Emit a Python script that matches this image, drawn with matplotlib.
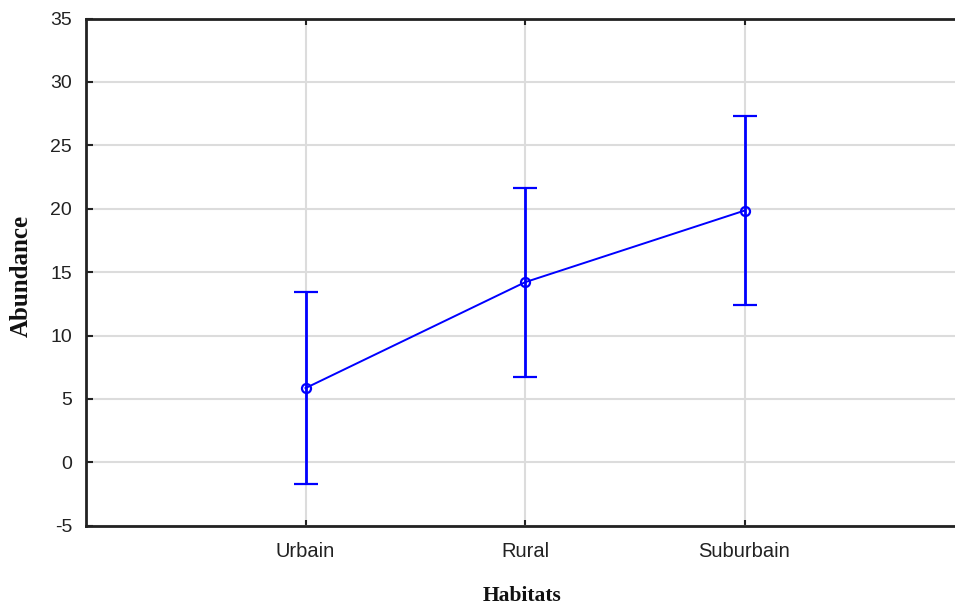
import matplotlib
matplotlib.use("Agg")
import matplotlib.pyplot as plt
import numpy as np

plt.rcParams["axes.unicode_minus"] = False

categories = ["Urbain", "Rural", "Suburbain"]
means = [5.85, 14.2, 19.85]
errors = [7.55, 7.45, 7.45]
yticks = [-5, 0, 5, 10, 15, 20, 25, 30, 35]

W, H = 955, 609
fig = plt.figure(figsize=(W / 100, H / 100), dpi=100)
ax = fig.add_axes([86 / W, (H - 525.7) / H, (964 - 86) / W, (525.7 - 18.5) / H])

x = np.arange(len(categories))
ax.errorbar(x, means, yerr=errors, color="#0000ff", linewidth=1.4,
            elinewidth=2.0, capsize=8.5, capthick=2.0,
            marker="o", markersize=6.5, markerfacecolor="none",
            markeredgewidth=1.6, zorder=3)

ax.set_xlim(-1, 3)
ax.set_ylim(-5, 35)
ax.set_xticks(x)
ax.set_xticklabels(categories)
ax.set_yticks(yticks)

ax.grid(True, color="#dcdcdc", linewidth=1.5, zorder=0)
ax.set_axisbelow(True)

for s in ["left", "top", "bottom"]:
    ax.spines[s].set_linewidth(2.0)
    ax.spines[s].set_color("#222222")
ax.spines["right"].set_visible(False)

ax.tick_params(axis="y", direction="in", length=5, width=1.5, color="#222222",
               labelsize=14, labelcolor="#222222", pad=10, right=False)
ax.tick_params(axis="x", direction="in", length=4, width=1.5, color="#222222",
               labelsize=14.5, labelcolor="#222222", pad=12, top=True)
for lab in ax.get_xticklabels() + ax.get_yticklabels():
    lab.set_fontfamily("Liberation Sans")

fig.text(521.7 / W, 1 - 596 / H, "Habitats", ha="center", va="center",
         fontsize=15.5, fontweight="bold", family="Liberation Serif", color="#111111")
fig.text(21 / W, 1 - 276 / H, "Abundance", ha="center", va="center", rotation=90,
         fontsize=18, fontweight="bold", family="Liberation Serif", color="#111111")

fig.savefig("out.png", dpi=100)
